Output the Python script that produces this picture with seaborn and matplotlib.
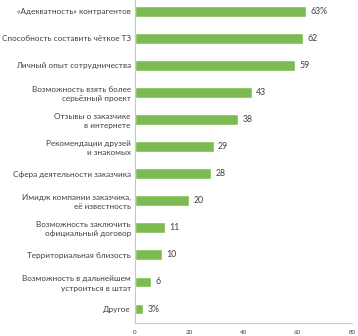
import matplotlib
matplotlib.use("Agg")
import matplotlib.pyplot as plt
import seaborn as sns
import pandas as pd

categories = [
    "«Адекватность» контрагентов",
    "Способность составить чёткое ТЗ",
    "Личный опыт сотрудничества",
    "Возможность взять более\nсерьёзный проект",
    "Отзывы о заказчике\nв интернете",
    "Рекомендации друзей\nи знакомых",
    "Сфера деятельности заказчика",
    "Имидж компании заказчика,\nеё известность",
    "Возможность заключить\nофициальный договор",
    "Территориальная близость",
    "Возможность в дальнейшем\nустроиться в штат",
    "Другое",
]
values = [63, 62, 59, 43, 38, 29, 28, 20, 11, 10, 6, 3]
value_labels = ["63%", "62", "59", "43", "38", "29", "28", "20", "11", "10", "6", "3%"]
x_ticks = [0, 20, 40, 60, 80]

df = pd.DataFrame({"category": categories, "value": values})

sns.set_style("white")
plt.rcParams["font.family"] = ["Lato", "DejaVu Sans"]

bar_color = "#7cbb52"
axis_color = "#b5d9a0"
text_color = "#404040"

fig = plt.figure(figsize=(3.58, 3.36), dpi=100)
ax = fig.add_axes([0.377, 0.04, 0.606, 0.967])

sns.barplot(data=df, x="value", y="category", color=bar_color, saturation=1,
            width=0.4, ax=ax)

ax.set_xlim(0, 80)
ax.set_ylim(11.5, -0.5)
ax.set_xticks(x_ticks)
ax.set_xticklabels([str(t) for t in x_ticks], fontsize=4.5, color=text_color)
ax.tick_params(axis="x", length=0, pad=5)
ax.tick_params(axis="y", length=0, pad=3)
for lbl in ax.get_yticklabels():
    lbl.set_fontsize(5.85)
    lbl.set_color(text_color)
    lbl.set_horizontalalignment("right")
    lbl.set_multialignment("right")
    lbl.set_linespacing(1.35)
ax.set_xlabel("")
ax.set_ylabel("")

for side in ["top", "right"]:
    ax.spines[side].set_visible(False)
for side in ["left", "bottom"]:
    ax.spines[side].set_color(axis_color)
    ax.spines[side].set_linewidth(0.8)

for i, (v, lab) in enumerate(zip(values, value_labels)):
    ax.text(v + 1.6, i, lab, va="center", ha="left", fontsize=6.3, color=text_color)

fig.savefig("out.png", dpi=100)
